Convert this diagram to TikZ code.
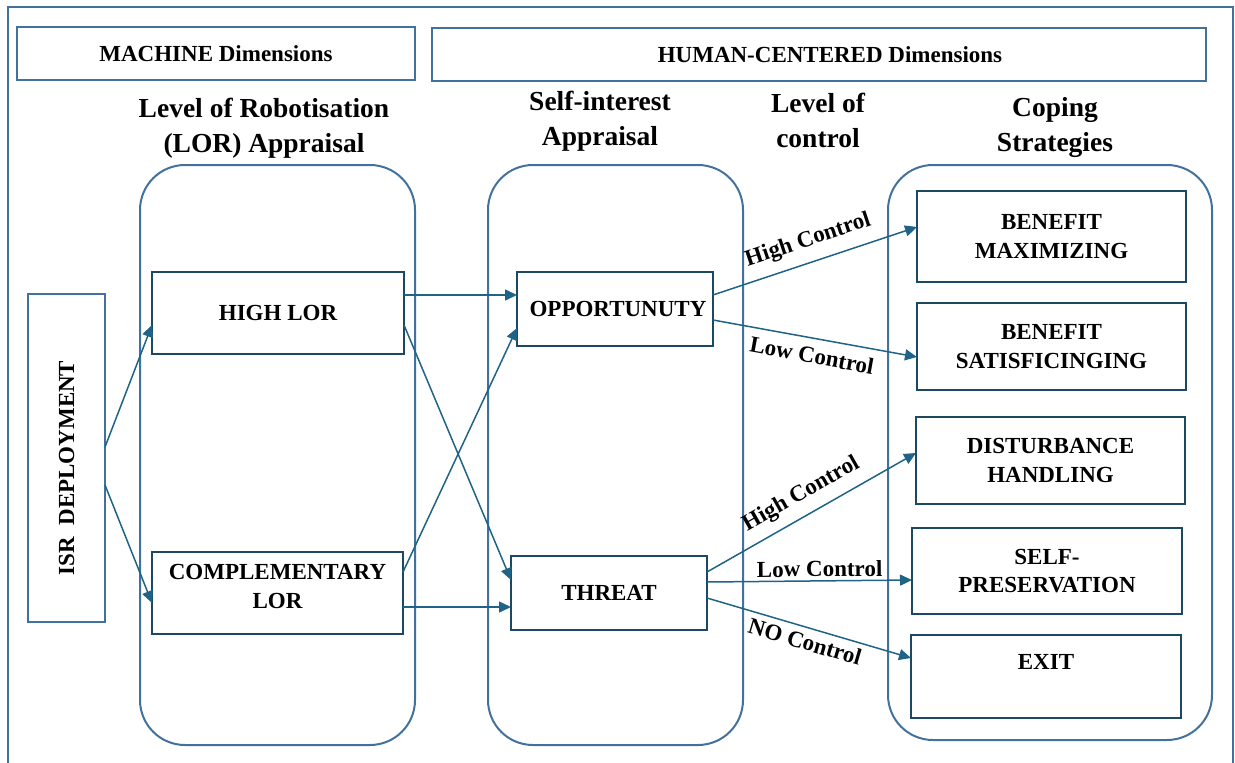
\documentclass[tikz,border=0pt]{standalone}
\usepackage{fontspec}
\setmainfont{Liberation Serif}
\usetikzlibrary{arrows.meta}
\definecolor{frameblue}{RGB}{65,113,156}
\definecolor{boxteal}{RGB}{28,72,98}
\definecolor{arrowblue}{RGB}{31,100,135}

\begin{document}
\begin{tikzpicture}[x=1pt,y=-1pt,
    txt/.style={font=\fontsize{23}{28.5}\selectfont\bfseries, align=center},
    head/.style={font=\fontsize{27.5}{35}\selectfont\bfseries, align=center},
    dimbox/.style={draw=frameblue, line width=2pt, txt, inner sep=0pt, outer sep=0pt},
    stagebox/.style={draw=boxteal, line width=2.5pt, txt, inner sep=0pt, outer sep=0pt},
    lane/.style={draw=frameblue, line width=2pt, rounded corners=45pt},
    link/.style={draw=arrowblue, line width=1.5pt, -{Triangle[length=12pt,width=11pt]}},
    lbl/.style={font=\fontsize{23}{28}\selectfont\bfseries, sloped, text=black}]
    \useasboundingbox (0,0) rectangle (1235,763);
    \clip (0,0) rectangle (1235,763);
    \def\lanelor{(140,165) rectangle (415,745)}
    \def\laneself{(488,165) rectangle (743,745)}
    \def\lanecope{(888,165) rectangle (1212,740)}

    % outer frame
    \draw[frameblue, line width=1.5pt] (8,7) rectangle (1233,780);

    % dimension bars
    \node[dimbox, minimum width=398pt, minimum height=53pt] (machine) at (216,53.5) {MACHINE Dimensions};
    \node[dimbox, minimum width=774pt, minimum height=53pt] (human) at (819,54.5) {\hspace*{22pt}HUMAN-CENTERED Dimensions};

    % column headings
    \node[head] (lorhead) at (264,128) {Level of Robotisation\\(LOR) Appraisal};
    \node[head] (selfhead) at (600,121) {Self-interest\\Appraisal};
    \node[head] (ctrlhead) at (818,120) {Level of\\control};
    \node[head] (copehead) at (1055,127) {Coping\\Strategies};

    % lanes
    \draw[lane] \lanelor;
    \draw[lane] \laneself;
    \draw[lane] \lanecope;

    % deployment
    \node[dimbox, line width=2.5pt, minimum width=77pt, minimum height=328pt] (isr) at (66.5,458) {};
    \node[txt, rotate=90] (isrlabel) at ([yshift=-10pt]isr.center) {ISR\ \ DEPLOYMENT};

    % LOR appraisal
    \node[stagebox, minimum width=252pt, minimum height=82pt] (highlor) at (278,313) {HIGH LOR};
    \node[stagebox, minimum width=251pt, minimum height=82pt, text depth=13pt] (complor) at (277.5,593) {COMPLEMENTARY\\LOR};

    % self-interest appraisal
    \node[stagebox, minimum width=196pt, minimum height=74pt] (opp) at (615,309) {\hspace*{6pt}OPPORTUNUTY};
    \node[stagebox, minimum width=196pt, minimum height=74pt] (threat) at (609,593) {THREAT};

    % coping strategies
    \node[stagebox, minimum width=269pt, minimum height=91pt] (maxim) at (1051.5,236.5) {BENEFIT\\MAXIMIZING};
    \node[stagebox, minimum width=269pt, minimum height=87pt] (satis) at (1051.5,346.5) {BENEFIT\\SATISFICINGING};
    \node[stagebox, minimum width=269pt, minimum height=87pt] (disturb) at (1050.5,460.5) {DISTURBANCE\\HANDLING};
    \node[stagebox, minimum width=270pt, minimum height=86pt] (selfpres) at (1047,571) {SELF-\\PRESERVATION};
    \node[stagebox, minimum width=270pt, minimum height=83pt, text depth=29pt] (exit) at (1046,676.5) {EXIT};

    % deployment to LOR
    \draw[link] ([yshift=11pt]isr.east) -- ([yshift=-12pt]highlor.west);
    \draw[link] ([yshift=-27pt]isr.east) -- ([yshift=-10pt]complor.west);

    % LOR to self-interest
    \draw[link] ([yshift=18pt]highlor.east) -- ([yshift=14pt]opp.west);
    \draw[link] ([yshift=-12pt]highlor.east) -- ([yshift=13pt]threat.west);
    \draw[link] ([yshift=21pt]complor.east) -- ([yshift=-19pt]opp.west);
    \draw[link] ([yshift=-14pt]complor.east) -- ([yshift=-14pt]threat.west);

    % opportunity to coping
    \draw[link] ([yshift=14pt]opp.east) -- node[lbl, above=7pt] (oppHigh) {High Control} ([yshift=9.5pt]maxim.west);
    \draw[link] ([yshift=-11pt]opp.east) -- node[lbl, below=5pt] (oppLow) {Low Control} ([yshift=-10.5pt]satis.west);

    % threat to coping
    \draw[link] ([yshift=21pt]threat.east) -- node[lbl, above=6pt] (thrHigh) {High Control} ([yshift=7.5pt]disturb.west);
    \draw[link] ([yshift=11pt]threat.east) -- node[lbl, above, pos=0.55] (thrLow) {Low Control} ([yshift=-9pt]selfpres.west);
    \draw[link] ([yshift=-5pt]threat.east) -- node[lbl, below=2pt] (thrNo) {NO Control} ([yshift=18.5pt]exit.west);
\end{tikzpicture}
\end{document}
